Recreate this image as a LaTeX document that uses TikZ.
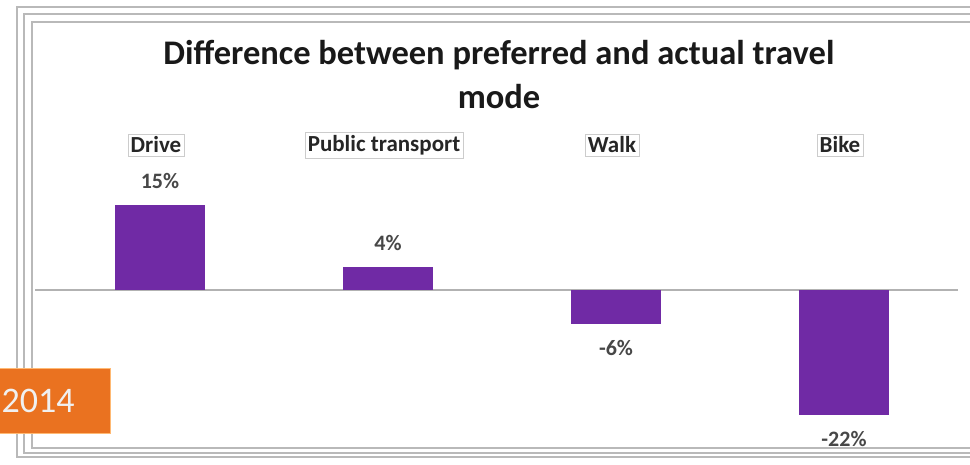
\documentclass[tikz,border=0pt]{standalone}
\usepackage{fontspec}
\setmainfont{Carlito}
\definecolor{barpurple}{RGB}{112,42,165}
\definecolor{tagorange}{RGB}{234,114,32}
\tikzset{
  frameline/.style={draw=gray!55, line width=1.3},
  catlabel/.style={draw=gray!40, inner sep=3pt, text=black!85, font=\bfseries\fontsize{23}{23}\selectfont},
  vallabel/.style={text=black!72, font=\bfseries\fontsize{22}{22}\selectfont},
  bar/.style={fill=barpurple}
}
\begin{document}
\begin{tikzpicture}[x=1pt,y=-1pt]
    \useasboundingbox (0,0) rectangle (970,464);
    \clip (0,0) rectangle (970,464);
    \draw[frameline] (17,7) rectangle (990,457);
    \draw[frameline] (24,14) rectangle (990,453);
    \draw[frameline] (32,22) rectangle (990,448);

    \node[align=center, text=black!90, font=\bfseries\fontsize{34.5}{44}\selectfont] (title) at (499,75) {Difference between preferred and actual travel\\mode};

    \coordinate (axis-l) at (35,290);
    \coordinate (axis-r) at (958,290);
    \draw[gray!60, line width=1.5] (axis-l) -- (axis-r);

    \foreach \name/\pos/\val/\txt in {drive/160/15/Drive, pt/388/4/Public transport, walk/616/-6/Walk, bike/844/-22/Bike}{
    \pgfmathsetmacro\ytop{290-5.67*\val}
    \pgfmathsetmacro\ylab{290-5.67*\val-24*sign(\val)}
    \fill[bar] (\pos-45,290) rectangle (\pos+45,\ytop);
    \node[catlabel] (cat-\name) at (\pos-4,145) {\txt};
    \node[vallabel] (val-\name) at (\pos,\ylab) {\val\%};
    }

    \fill[tagorange] (-40,368) rectangle (110,433);
    \draw[orange!55, line width=0.8] (-40,368) -| (110,433) -- (-40,433);
    \node[text=white!88!gray, font=\fontsize{36}{36}\selectfont] (year) at (38,401) {2014};
\end{tikzpicture}
\end{document}
